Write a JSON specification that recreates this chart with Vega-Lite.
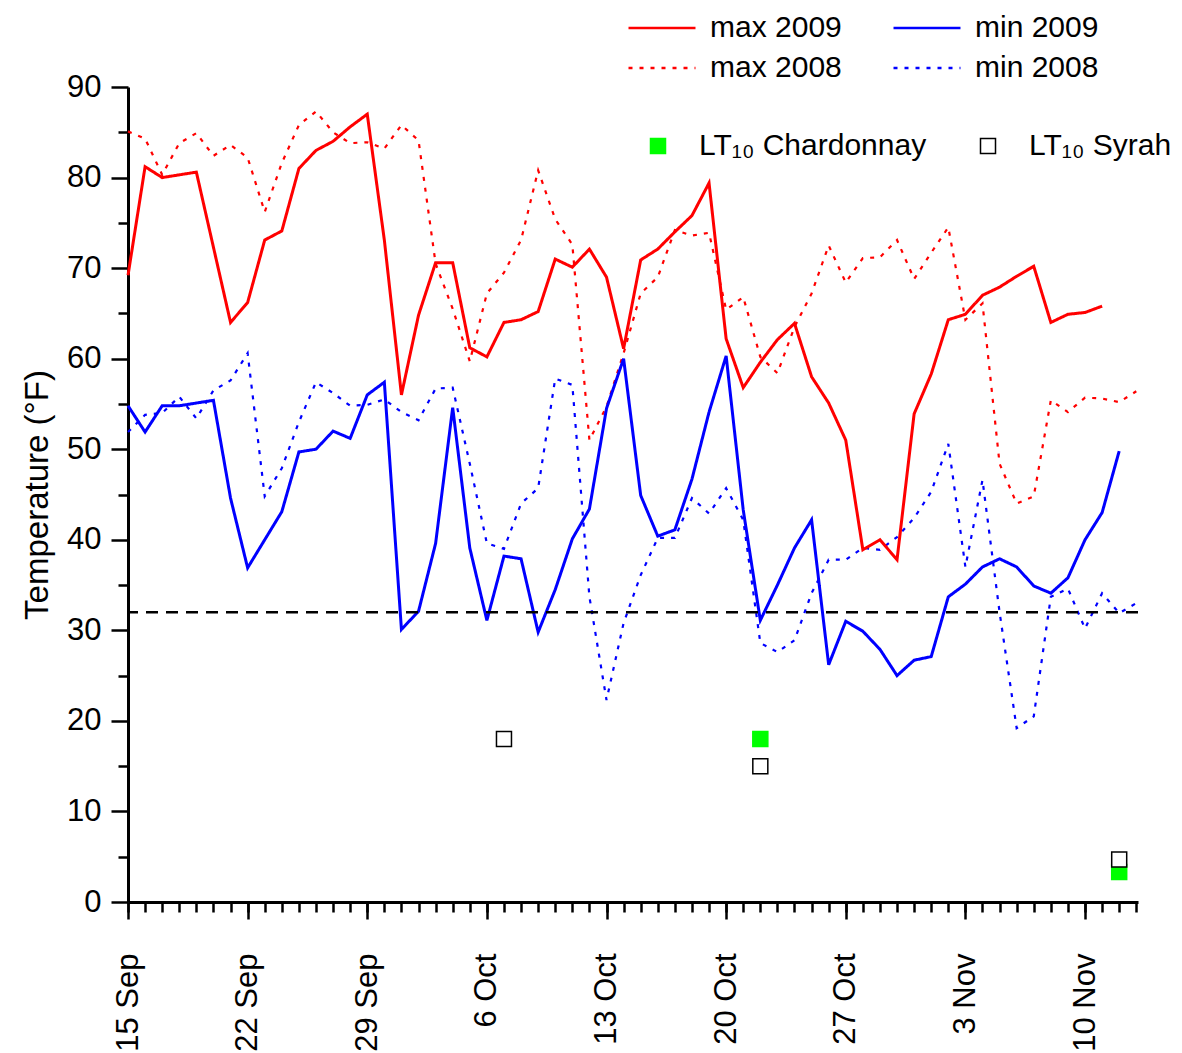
{
  "$schema": "https://vega.github.io/schema/vega-lite/v6.json",
  "width": 1010,
  "height": 815,
  "autosize": {"type": "none"},
  "padding": {"left": 128, "top": 87, "right": 44, "bottom": 151},
  "background": "white",
  "config": {
    "view": {"stroke": null},
    "font": "Liberation Sans",
    "axis": {
      "grid": false,
      "domainColor": "black",
      "domainWidth": 3,
      "tickColor": "black",
      "tickWidth": 2.5,
      "labelColor": "black",
      "labelFont": "Liberation Sans",
      "labelFontSize": 31,
      "titleFont": "Liberation Sans",
      "titleFontWeight": "normal",
      "titleColor": "black"
    },
    "legend": {"labelFont": "Liberation Sans", "labelColor": "black", "padding": 0, "labelLimit": 500}
  },
  "datasets": {
    "lines": [
      {"day": 0, "series": "max 2009", "t": 69.2}, {"day": 1, "series": "max 2009", "t": 81.2}, {"day": 2, "series": "max 2009", "t": 80.0}, {"day": 4, "series": "max 2009", "t": 80.6}, {"day": 6, "series": "max 2009", "t": 64.0}, {"day": 7, "series": "max 2009", "t": 66.2}, {"day": 8, "series": "max 2009", "t": 73.1}, {"day": 9, "series": "max 2009", "t": 74.1}, {"day": 10, "series": "max 2009", "t": 81.0}, {"day": 11, "series": "max 2009", "t": 83.0}, {"day": 12, "series": "max 2009", "t": 84.0}, {"day": 13, "series": "max 2009", "t": 85.6}, {"day": 14, "series": "max 2009", "t": 87.0}, {"day": 15, "series": "max 2009", "t": 73.1}, {"day": 16, "series": "max 2009", "t": 56.0}, {"day": 17, "series": "max 2009", "t": 64.8}, {"day": 18, "series": "max 2009", "t": 70.6}, {"day": 19, "series": "max 2009", "t": 70.6}, {"day": 20, "series": "max 2009", "t": 61.2}, {"day": 21, "series": "max 2009", "t": 60.2}, {"day": 22, "series": "max 2009", "t": 64.0}, {"day": 23, "series": "max 2009", "t": 64.3}, {"day": 24, "series": "max 2009", "t": 65.2}, {"day": 25, "series": "max 2009", "t": 71.0}, {"day": 26, "series": "max 2009", "t": 70.1}, {"day": 27, "series": "max 2009", "t": 72.1}, {"day": 28, "series": "max 2009", "t": 69.0}, {"day": 29, "series": "max 2009", "t": 61.1}, {"day": 30, "series": "max 2009", "t": 70.9}, {"day": 31, "series": "max 2009", "t": 72.1}, {"day": 32, "series": "max 2009", "t": 74.0}, {"day": 33, "series": "max 2009", "t": 75.8}, {"day": 34, "series": "max 2009", "t": 79.4}, {"day": 35, "series": "max 2009", "t": 62.2}, {"day": 36, "series": "max 2009", "t": 56.8}, {"day": 37, "series": "max 2009", "t": 59.6}, {"day": 38, "series": "max 2009", "t": 62.1}, {"day": 39, "series": "max 2009", "t": 63.9}, {"day": 40, "series": "max 2009", "t": 58.0}, {"day": 41, "series": "max 2009", "t": 55.1}, {"day": 42, "series": "max 2009", "t": 51.0}, {"day": 43, "series": "max 2009", "t": 38.9}, {"day": 44, "series": "max 2009", "t": 40.0}, {"day": 45, "series": "max 2009", "t": 37.8}, {"day": 46, "series": "max 2009", "t": 53.9}, {"day": 47, "series": "max 2009", "t": 58.3}, {"day": 48, "series": "max 2009", "t": 64.3}, {"day": 49, "series": "max 2009", "t": 64.9}, {"day": 50, "series": "max 2009", "t": 67.0}, {"day": 51, "series": "max 2009", "t": 67.9}, {"day": 52, "series": "max 2009", "t": 69.1}, {"day": 53, "series": "max 2009", "t": 70.2}, {"day": 54, "series": "max 2009", "t": 64.0}, {"day": 55, "series": "max 2009", "t": 64.9}, {"day": 56, "series": "max 2009", "t": 65.1}, {"day": 57, "series": "max 2009", "t": 65.8},
      {"day": 0, "series": "min 2009", "t": 54.8}, {"day": 1, "series": "min 2009", "t": 51.9}, {"day": 2, "series": "min 2009", "t": 54.8}, {"day": 3, "series": "min 2009", "t": 54.8}, {"day": 4, "series": "min 2009", "t": 55.1}, {"day": 5, "series": "min 2009", "t": 55.4}, {"day": 6, "series": "min 2009", "t": 44.6}, {"day": 7, "series": "min 2009", "t": 36.9}, {"day": 8, "series": "min 2009", "t": 40.0}, {"day": 9, "series": "min 2009", "t": 43.1}, {"day": 10, "series": "min 2009", "t": 49.7}, {"day": 11, "series": "min 2009", "t": 50.0}, {"day": 12, "series": "min 2009", "t": 52.0}, {"day": 13, "series": "min 2009", "t": 51.2}, {"day": 14, "series": "min 2009", "t": 56.0}, {"day": 15, "series": "min 2009", "t": 57.4}, {"day": 16, "series": "min 2009", "t": 30.1}, {"day": 17, "series": "min 2009", "t": 32.1}, {"day": 18, "series": "min 2009", "t": 39.6}, {"day": 19, "series": "min 2009", "t": 54.6}, {"day": 20, "series": "min 2009", "t": 39.1}, {"day": 21, "series": "min 2009", "t": 31.1}, {"day": 22, "series": "min 2009", "t": 38.2}, {"day": 23, "series": "min 2009", "t": 37.9}, {"day": 24, "series": "min 2009", "t": 29.8}, {"day": 25, "series": "min 2009", "t": 34.5}, {"day": 26, "series": "min 2009", "t": 40.1}, {"day": 27, "series": "min 2009", "t": 43.4}, {"day": 28, "series": "min 2009", "t": 54.5}, {"day": 29, "series": "min 2009", "t": 60.0}, {"day": 30, "series": "min 2009", "t": 44.9}, {"day": 31, "series": "min 2009", "t": 40.4}, {"day": 32, "series": "min 2009", "t": 41.1}, {"day": 33, "series": "min 2009", "t": 46.7}, {"day": 34, "series": "min 2009", "t": 54.1}, {"day": 35, "series": "min 2009", "t": 60.3}, {"day": 36, "series": "min 2009", "t": 43.3}, {"day": 37, "series": "min 2009", "t": 31.1}, {"day": 38, "series": "min 2009", "t": 35.0}, {"day": 39, "series": "min 2009", "t": 39.1}, {"day": 40, "series": "min 2009", "t": 42.2}, {"day": 41, "series": "min 2009", "t": 26.2}, {"day": 42, "series": "min 2009", "t": 31.0}, {"day": 43, "series": "min 2009", "t": 29.9}, {"day": 44, "series": "min 2009", "t": 27.9}, {"day": 45, "series": "min 2009", "t": 25.0}, {"day": 46, "series": "min 2009", "t": 26.7}, {"day": 47, "series": "min 2009", "t": 27.1}, {"day": 48, "series": "min 2009", "t": 33.7}, {"day": 49, "series": "min 2009", "t": 35.1}, {"day": 50, "series": "min 2009", "t": 37.0}, {"day": 51, "series": "min 2009", "t": 37.9}, {"day": 52, "series": "min 2009", "t": 37.0}, {"day": 53, "series": "min 2009", "t": 34.9}, {"day": 54, "series": "min 2009", "t": 34.1}, {"day": 55, "series": "min 2009", "t": 35.8}, {"day": 56, "series": "min 2009", "t": 40.0}, {"day": 57, "series": "min 2009", "t": 43.0}, {"day": 58, "series": "min 2009", "t": 49.8},
      {"day": 0, "series": "max 2008", "t": 85.1}, {"day": 1, "series": "max 2008", "t": 84.3}, {"day": 2, "series": "max 2008", "t": 80.3}, {"day": 3, "series": "max 2008", "t": 83.8}, {"day": 4, "series": "max 2008", "t": 84.9}, {"day": 5, "series": "max 2008", "t": 82.4}, {"day": 6, "series": "max 2008", "t": 83.6}, {"day": 7, "series": "max 2008", "t": 82.2}, {"day": 8, "series": "max 2008", "t": 76.2}, {"day": 9, "series": "max 2008", "t": 81.6}, {"day": 10, "series": "max 2008", "t": 85.8}, {"day": 11, "series": "max 2008", "t": 87.3}, {"day": 12, "series": "max 2008", "t": 85.0}, {"day": 13, "series": "max 2008", "t": 83.8}, {"day": 14, "series": "max 2008", "t": 83.9}, {"day": 15, "series": "max 2008", "t": 83.2}, {"day": 16, "series": "max 2008", "t": 85.8}, {"day": 17, "series": "max 2008", "t": 84.1}, {"day": 18, "series": "max 2008", "t": 70.5}, {"day": 19, "series": "max 2008", "t": 65.5}, {"day": 20, "series": "max 2008", "t": 59.7}, {"day": 21, "series": "max 2008", "t": 67.2}, {"day": 22, "series": "max 2008", "t": 69.5}, {"day": 23, "series": "max 2008", "t": 73.1}, {"day": 24, "series": "max 2008", "t": 80.8}, {"day": 25, "series": "max 2008", "t": 75.4}, {"day": 26, "series": "max 2008", "t": 72.6}, {"day": 27, "series": "max 2008", "t": 51.0}, {"day": 28, "series": "max 2008", "t": 54.7}, {"day": 29, "series": "max 2008", "t": 60.6}, {"day": 30, "series": "max 2008", "t": 67.2}, {"day": 31, "series": "max 2008", "t": 69.0}, {"day": 32, "series": "max 2008", "t": 74.2}, {"day": 33, "series": "max 2008", "t": 73.6}, {"day": 34, "series": "max 2008", "t": 73.9}, {"day": 35, "series": "max 2008", "t": 65.4}, {"day": 36, "series": "max 2008", "t": 66.8}, {"day": 37, "series": "max 2008", "t": 60.2}, {"day": 38, "series": "max 2008", "t": 58.4}, {"day": 39, "series": "max 2008", "t": 63.5}, {"day": 40, "series": "max 2008", "t": 67.2}, {"day": 41, "series": "max 2008", "t": 72.5}, {"day": 42, "series": "max 2008", "t": 68.4}, {"day": 43, "series": "max 2008", "t": 71.1}, {"day": 44, "series": "max 2008", "t": 71.2}, {"day": 45, "series": "max 2008", "t": 73.1}, {"day": 46, "series": "max 2008", "t": 68.8}, {"day": 47, "series": "max 2008", "t": 71.7}, {"day": 48, "series": "max 2008", "t": 74.5}, {"day": 49, "series": "max 2008", "t": 64.3}, {"day": 50, "series": "max 2008", "t": 66.1}, {"day": 51, "series": "max 2008", "t": 48.4}, {"day": 52, "series": "max 2008", "t": 44.0}, {"day": 53, "series": "max 2008", "t": 44.8}, {"day": 54, "series": "max 2008", "t": 55.4}, {"day": 55, "series": "max 2008", "t": 54.1}, {"day": 56, "series": "max 2008", "t": 55.7}, {"day": 57, "series": "max 2008", "t": 55.6}, {"day": 58, "series": "max 2008", "t": 55.2}, {"day": 59, "series": "max 2008", "t": 56.4},
      {"day": 0, "series": "min 2008", "t": 51.9}, {"day": 1, "series": "min 2008", "t": 53.8}, {"day": 2, "series": "min 2008", "t": 54.0}, {"day": 3, "series": "min 2008", "t": 55.8}, {"day": 4, "series": "min 2008", "t": 53.4}, {"day": 5, "series": "min 2008", "t": 56.5}, {"day": 6, "series": "min 2008", "t": 57.6}, {"day": 7, "series": "min 2008", "t": 60.6}, {"day": 8, "series": "min 2008", "t": 44.8}, {"day": 9, "series": "min 2008", "t": 47.9}, {"day": 10, "series": "min 2008", "t": 53.0}, {"day": 11, "series": "min 2008", "t": 57.4}, {"day": 12, "series": "min 2008", "t": 56.2}, {"day": 13, "series": "min 2008", "t": 54.8}, {"day": 14, "series": "min 2008", "t": 54.9}, {"day": 15, "series": "min 2008", "t": 55.5}, {"day": 16, "series": "min 2008", "t": 54.1}, {"day": 17, "series": "min 2008", "t": 53.2}, {"day": 18, "series": "min 2008", "t": 56.7}, {"day": 19, "series": "min 2008", "t": 56.8}, {"day": 20, "series": "min 2008", "t": 48.4}, {"day": 21, "series": "min 2008", "t": 39.6}, {"day": 22, "series": "min 2008", "t": 39.0}, {"day": 23, "series": "min 2008", "t": 44.0}, {"day": 24, "series": "min 2008", "t": 45.7}, {"day": 25, "series": "min 2008", "t": 57.8}, {"day": 26, "series": "min 2008", "t": 57.1}, {"day": 27, "series": "min 2008", "t": 33.7}, {"day": 28, "series": "min 2008", "t": 22.3}, {"day": 29, "series": "min 2008", "t": 30.8}, {"day": 30, "series": "min 2008", "t": 36.1}, {"day": 31, "series": "min 2008", "t": 40.2}, {"day": 32, "series": "min 2008", "t": 40.2}, {"day": 33, "series": "min 2008", "t": 44.6}, {"day": 34, "series": "min 2008", "t": 42.9}, {"day": 35, "series": "min 2008", "t": 45.7}, {"day": 36, "series": "min 2008", "t": 42.2}, {"day": 37, "series": "min 2008", "t": 28.6}, {"day": 38, "series": "min 2008", "t": 27.6}, {"day": 39, "series": "min 2008", "t": 28.9}, {"day": 40, "series": "min 2008", "t": 34.1}, {"day": 41, "series": "min 2008", "t": 37.8}, {"day": 42, "series": "min 2008", "t": 37.8}, {"day": 43, "series": "min 2008", "t": 39.1}, {"day": 44, "series": "min 2008", "t": 38.9}, {"day": 45, "series": "min 2008", "t": 40.3}, {"day": 46, "series": "min 2008", "t": 42.4}, {"day": 47, "series": "min 2008", "t": 45.3}, {"day": 48, "series": "min 2008", "t": 50.6}, {"day": 49, "series": "min 2008", "t": 37.0}, {"day": 50, "series": "min 2008", "t": 46.6}, {"day": 51, "series": "min 2008", "t": 32.0}, {"day": 52, "series": "min 2008", "t": 19.2}, {"day": 53, "series": "min 2008", "t": 20.5}, {"day": 54, "series": "min 2008", "t": 33.7}, {"day": 55, "series": "min 2008", "t": 34.6}, {"day": 56, "series": "min 2008", "t": 30.2}, {"day": 57, "series": "min 2008", "t": 34.1}, {"day": 58, "series": "min 2008", "t": 31.9}, {"day": 59, "series": "min 2008", "t": 33.0}
    ],
    "lt10": [
      {"day": 37, "variety": "LT₁₀ Chardonnay", "t": 18.0},
      {"day": 58, "variety": "LT₁₀ Chardonnay", "t": 3.3},
      {"day": 22, "variety": "LT₁₀ Syrah", "t": 18.0},
      {"day": 37, "variety": "LT₁₀ Syrah", "t": 15.0},
      {"day": 58, "variety": "LT₁₀ Syrah", "t": 4.7}
    ],
    "freeze": [{"threshold": 32}]
  },
  "resolve": {"axis": {"x": "independent", "y": "independent"}},
  "layer": [
    {
      "data": {"name": "lines"},
      "transform": [{"filter": "indexof(datum.series, '2008') >= 0"}],
      "mark": {"type": "line", "strokeWidth": 2.2},
      "encoding": {
        "x": {"field": "day", "type": "quantitative", "scale": {"domain": [0, 59.1], "nice": false, "zero": false},
          "axis": {"orient": "bottom", "values": [0, 7, 14, 21, 28, 35, 42, 49, 56],
            "labelExpr": "['15 Sep','22 Sep','29 Sep','6 Oct','13 Oct','20 Oct','27 Oct','3 Nov','10 Nov'][round(datum.value/7)]",
            "tickSize": 17, "labelAngle": 270, "labelPadding": 34, "title": null, "labelFlush": false, "labelOverlap": false}},
        "y": {"field": "t", "type": "quantitative", "scale": {"domain": [0, 90], "nice": false},
          "axis": {"orient": "left", "values": [0, 10, 20, 30, 40, 50, 60, 70, 80, 90], "tickSize": 17, "labelPadding": 10,
            "title": "Temperature (°F)", "titleFontSize": 33, "titlePadding": 12}},
        "color": {"field": "series", "type": "nominal",
          "scale": {"domain": ["max 2009", "min 2009", "max 2008", "min 2008"], "range": ["#ff0000", "#0000ff", "#ff0000", "#0000ff"]},
          "legend": {"orient": "none", "legendX": 516, "legendY": -77, "direction": "horizontal", "columns": 2, "title": null, "symbolType": "M-2,0L2,0",
            "symbolSize": 1122, "symbolStrokeWidth": 2.5, "labelFontSize": 30, "labelOffset": 30, "columnPadding": 46, "rowPadding": 7}},
        "strokeDash": {"field": "series", "type": "nominal",
          "scale": {"domain": ["max 2009", "min 2009", "max 2008", "min 2008"], "range": [[1, 0], [1, 0], [4, 7], [4, 7]]}},
        "detail": {"field": "series"}
      }
    },
    {
      "data": {"name": "lines"},
      "transform": [{"filter": "indexof(datum.series, '2009') >= 0"}],
      "mark": {"type": "line", "strokeWidth": 3},
      "encoding": {
        "x": {"field": "day", "type": "quantitative", "axis": null},
        "y": {"field": "t", "type": "quantitative", "axis": null},
        "color": {"field": "series", "type": "nominal"},
        "strokeDash": {"field": "series", "type": "nominal"}
      }
    },
    {
      "data": {"name": "freeze"},
      "mark": {"type": "rule", "color": "black", "strokeWidth": 2.5, "strokeDash": [12, 8]},
      "encoding": {"y": {"field": "threshold", "type": "quantitative", "axis": null}}
    },
    {
      "data": {"name": "lt10"},
      "mark": {"type": "point", "shape": "square", "filled": true, "size": 225, "strokeWidth": 1.5, "opacity": 1},
      "encoding": {
        "x": {"field": "day", "type": "quantitative",
          "axis": {"orient": "bottom", "values": [0,1,2,3,4,5,6,7,8,9,10,11,12,13,14,15,16,17,18,19,20,21,22,23,24,25,26,27,28,29,30,31,32,33,34,35,36,37,38,39,40,41,42,43,44,45,46,47,48,49,50,51,52,53,54,55,56,57,58,59],
            "labels": false, "tickSize": 10, "domain": false, "title": null}},
        "y": {"field": "t", "type": "quantitative",
          "axis": {"orient": "left", "values": [5, 15, 25, 35, 45, 55, 65, 75, 85], "labels": false, "tickSize": 10, "domain": false, "title": null}},
        "fill": {"field": "variety", "type": "nominal",
          "scale": {"domain": ["LT₁₀ Chardonnay", "LT₁₀ Syrah"], "range": ["#00ff00", "#ffffff"]},
          "legend": {"orient": "none", "legendX": 515, "legendY": 44, "direction": "horizontal", "columns": 2, "title": null,
            "symbolType": "square", "symbolSize": 225, "symbolStrokeWidth": 1.5, "labelFontSize": 30, "labelOffset": 26, "columnPadding": 46}},
        "stroke": {"field": "variety", "type": "nominal",
          "scale": {"domain": ["LT₁₀ Chardonnay", "LT₁₀ Syrah"], "range": ["#00ff00", "#000000"]}}
      }
    }
  ]
}
